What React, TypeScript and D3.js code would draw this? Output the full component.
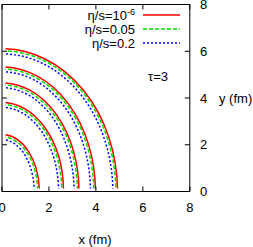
import React, { useEffect, useRef } from 'react';
import * as d3 from 'd3';

// freeze-out contours at tau=3: x and y intercepts (fm) of each quarter contour
const idealXs = [1.59, 2.62, 3.28, 3.98, 4.92];
const idealYs = [2.43, 3.81, 4.65, 5.33, 6.11];
const visc005Xs = [1.52, 2.55, 3.21, 3.91, 4.85];
const visc005Ys = [2.34, 3.72, 4.56, 5.24, 6.02];
const visc02Xs = [1.37, 2.41, 3.07, 3.77, 4.72];
const visc02Ys = [2.22, 3.6, 4.44, 5.12, 5.89];

// contours are cut off near the axes (grid start)
const xCut = 0.15;
const yCut = 0.13;

const xTicks = [0, 2, 4, 6, 8];
const yTicks = [0, 2, 4, 6, 8];

const series = [
  { base: 'η/s=10', sup: '-6', xs: idealXs, ys: idealYs, color: '#ff0000', dash: null },
  { base: 'η/s=0.05', sup: '', xs: visc005Xs, ys: visc005Ys, color: '#00dd00', dash: '4,2' },
  { base: 'η/s=0.2', sup: '', xs: visc02Xs, ys: visc02Ys, color: '#0000ff', dash: '2,2' },
];

const W = 253;
const H = 247;
const font = '"Liberation Sans", Arial, sans-serif';

const App = () => {
  const ref = useRef<SVGSVGElement>(null);

  useEffect(() => {
    if (!ref.current) return;
    const svg = d3.select(ref.current);
    svg.selectAll('*').remove();

    const x = d3.scaleLinear().domain([0, 8]).range([2, 189.8]);
    const y = d3.scaleLinear().domain([0, 8]).range([191.5, 4.5]);

    svg
      .append('defs')
      .append('clipPath')
      .attr('id', 'cut')
      .append('rect')
      .attr('x', x(xCut))
      .attr('y', y(8))
      .attr('width', x(8) - x(xCut))
      .attr('height', y(yCut) - y(8));

    const curves = svg.append('g').attr('clip-path', 'url(#cut)');
    series.forEach((s) => {
      s.xs.forEach((a, i) => {
        const b = s.ys[i];
        const rx = x(a) - x(0);
        const ry = y(0) - y(b);
        curves
          .append('path')
          .attr('d', `M${x(0)},${y(b)} A${rx},${ry} 0 0 1 ${x(a)},${y(0)}`)
          .attr('fill', 'none')
          .attr('stroke', s.color)
          .attr('stroke-width', 1.5)
          .attr('stroke-dasharray', s.dash);
      });
    });

    // frame
    svg
      .append('rect')
      .attr('x', x(0))
      .attr('y', y(8))
      .attr('width', x(8) - x(0))
      .attr('height', y(0) - y(8))
      .attr('fill', 'none')
      .attr('stroke', '#000')
      .attr('stroke-width', 1);

    const tl = 5;
    const ticks = svg.append('g').attr('stroke', '#000').attr('stroke-width', 1);
    xTicks.forEach((t) => {
      ticks.append('line').attr('x1', x(t)).attr('x2', x(t)).attr('y1', y(0)).attr('y2', y(0) - tl);
      ticks.append('line').attr('x1', x(t)).attr('x2', x(t)).attr('y1', y(8)).attr('y2', y(8) + tl);
    });
    yTicks.forEach((t) => {
      ticks.append('line').attr('y1', y(t)).attr('y2', y(t)).attr('x1', x(0)).attr('x2', x(0) + tl);
      ticks.append('line').attr('y1', y(t)).attr('y2', y(t)).attr('x1', x(8)).attr('x2', x(8) - tl);
    });

    const txt = svg.append('g').attr('font-family', font).attr('font-size', 13).attr('fill', '#000');

    xTicks.forEach((t) => {
      txt.append('text').attr('x', x(t)).attr('y', 211.5).attr('text-anchor', 'middle').text(t);
    });
    yTicks.forEach((t) => {
      txt.append('text').attr('x', 200).attr('y', y(t) + 4.7).text(t);
    });

    txt.append('text').attr('x', 95).attr('y', 244).attr('text-anchor', 'middle').text('x (fm)');
    txt.append('text').attr('x', 219).attr('y', y(4) + 4.7).text('y (fm)');
    txt.append('text').attr('x', 148).attr('y', 80.5).text('τ=3');

    // legend
    const rows = [15, 29, 43];
    series.forEach((s, i) => {
      const t = txt.append('text').attr('x', 135).attr('y', rows[i] + 4.7).attr('text-anchor', 'end');
      t.append('tspan').text(s.base);
      if (s.sup) t.append('tspan').attr('font-size', 9).attr('dy', -5).text(s.sup);
      svg
        .append('line')
        .attr('x1', 143)
        .attr('x2', 180)
        .attr('y1', rows[i])
        .attr('y2', rows[i])
        .attr('stroke', s.color)
        .attr('stroke-width', 1.5)
        .attr('stroke-dasharray', s.dash);
    });
  }, []);

  return (
    <svg
      ref={ref}
      width={W}
      height={H}
      style={{ position: 'absolute', left: 0, top: 0, background: '#fff' }}
    />
  );
};

export default App;
